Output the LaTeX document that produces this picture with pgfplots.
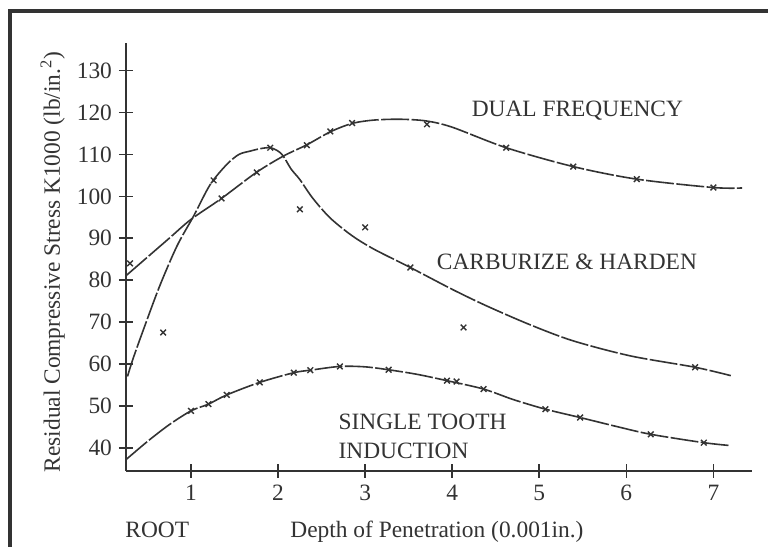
\documentclass[border=0pt]{standalone}
\usepackage{fontspec}
\setmainfont{Liberation Serif}
\usepackage{pgfplots}
\pgfplotsset{compat=1.18}
\newcommand\lab{\fontsize{11.7}{14}\selectfont}
\definecolor{ink}{gray}{0.2}
\begin{document}
\begin{tikzpicture}[x=1pt,y=1pt]
\path[use as bounding box, fill=white] (0,0) rectangle (384,273.5);
\draw[line width=1.8pt, ink] (5,-5) -- (5,268) -- (400,268);
\begin{axis}[at={(63pt,38pt)}, anchor=south west, scale only axis,
  width=312.9pt, height=214pt,
  xmin=0.253, xmax=7.441, ymin=34.44, ymax=136.6,
  axis lines=left, axis line style={-, line width=1.2pt, ink},
  xtick={1,...,7}, ytick={40,50,...,130},
  tick align=center, major tick length=7pt,
  tick style={line width=0.8pt, ink},
  ticklabel style={font=\lab, text=ink, /pgf/number format/assume math mode=true},
  clip=false]
% Dual frequency
\addplot[smooth, line width=0.8pt, ink, dash pattern=on 14pt off 1.2pt] coordinates {
(0.25,81) (0.5,85.5) (0.75,90) (1.0,94.5) (1.35,99.5) (1.75,105.7) (2.06,109.6)
(2.33,112.3) (2.6,115.4) (2.85,117.4) (3.1,118.2) (3.4,118.4) (3.7,118) (4.0,116.5)
(4.62,111.6) (5.39,107.1) (6.12,104.1) (7.0,102.1) (7.33,102)};
\addplot[only marks, mark=x, mark size=2pt, line width=0.7pt, ink] coordinates {
(0.3,84) (1.35,99.5) (1.755,105.7) (2.33,112.2) (2.6,115.5) (2.85,117.5) (3.71,117.2)
(4.62,111.6) (5.39,107.1) (6.12,104.1) (7.0,102.1)};
% Carburize & harden
\addplot[smooth, line width=0.8pt, ink, dash pattern=on 14pt off 1.2pt] coordinates {
(0.27,57) (0.33,61) (0.45,68) (0.64,78.6) (0.84,88.2) (1.03,95.3) (1.22,102.8)
(1.41,107.6) (1.55,110) (1.68,110.8) (1.8,111.4) (1.91,111.6) (2.0,110.8) (2.06,109.6)
(2.15,106.5) (2.25,104) (2.4,99.5) (2.6,94.8) (2.85,90.6) (3.1,87.4) (3.52,83)
(4.0,77.8) (4.4,73.8) (4.9,69.3) (5.39,65.5) (6.05,61.9) (6.79,59.2) (7.2,57.2)};
\addplot[only marks, mark=x, mark size=2pt, line width=0.7pt, ink] coordinates {
(0.68,67.5) (1.26,103.8) (1.91,111.6) (2.25,96.9) (3.0,92.6) (3.52,83) (4.13,68.7) (6.79,59.2)};
% Single tooth induction
\addplot[smooth, line width=0.8pt, ink, dash pattern=on 14pt off 1.2pt] coordinates {
(0.25,37.1) (0.5,41.5) (0.75,45.5) (1,48.8) (1.2,50.4) (1.41,52.6) (1.79,55.6)
(2.18,57.9) (2.37,58.5) (2.71,59.4) (3.0,59.3) (3.27,58.6) (3.6,57.5) (3.94,56)
(4.36,54) (4.7,51.5) (5.07,49.2) (5.47,47.2) (5.9,45.0) (6.28,43.2) (6.89,41.2) (7.2,40.5)};
\addplot[only marks, mark=x, mark size=2pt, line width=0.7pt, ink] coordinates {
(1,48.8) (1.2,50.4) (1.41,52.6) (1.79,55.6) (2.18,57.9) (2.37,58.5) (2.71,59.4)
(3.27,58.6) (3.94,56) (4.05,55.8) (4.36,54) (5.07,49.2) (5.47,47.2) (6.28,43.2) (6.89,41.2)};
\node[anchor=base west, inner sep=0, font=\lab, text=ink] at (axis cs:4.22,119.1) {DUAL FREQUENCY};
\node[anchor=base west, inner sep=0, font=\lab, text=ink] at (axis cs:3.82,82.6) {CARBURIZE \& HARDEN};
\node[anchor=base west, inner sep=0, font=\lab, text=ink] at (axis cs:2.69,44.4) {SINGLE TOOTH};
\node[anchor=base west, inner sep=0, font=\lab, text=ink] at (axis cs:2.69,37.5) {INDUCTION};
\end{axis}
\node[rotate=90, anchor=base, inner sep=0, font=\lab, text=ink] at (30,142.5) {Residual Compressive Stress K1000 (lb/in.\textsuperscript{2})};
\node[anchor=base west, inner sep=0, font=\lab, text=ink] at (62.5,4.5) {ROOT};
\node[anchor=base west, inner sep=0, font=\lab, text=ink] at (145,4.5) {Depth of Penetration (0.001in.)};
\end{tikzpicture}
\end{document}
